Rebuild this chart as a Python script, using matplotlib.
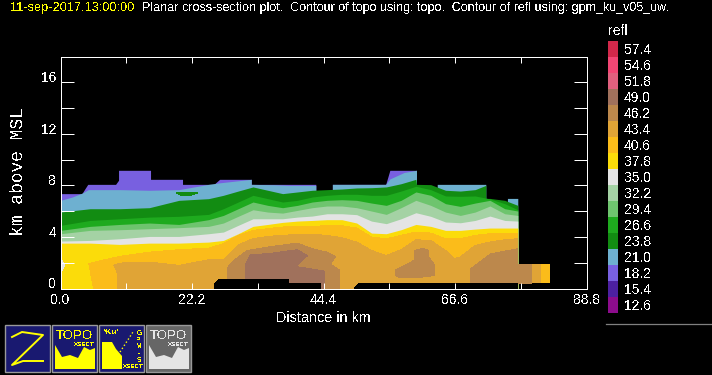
import matplotlib
matplotlib.use("Agg")
import matplotlib.pyplot as plt
import matplotlib.patches as patches

plt.rcParams['font.family'] = ['Liberation Sans', 'DejaVu Sans']
plt.rcParams['text.antialiased'] = False

WIDTH = 712
HEIGHT = 375

# Colour table, top of the legend first
refl_labels = ["57.4", "54.6", "51.8", "49.0", "46.2", "43.4", "40.6", "37.8", "35.0",
               "32.2", "29.4", "26.6", "23.8", "21.0", "18.2", "15.4", "12.6"]
refl_colors = ["#D2284A", "#F24674", "#E0607E", "#A0715C", "#BC884C", "#E0A436", "#FBBC1A",
               "#FBDC0A", "#E4E4E4", "#A4D2A4", "#6EC46E", "#1EAA1E", "#128C12", "#6EB0D0",
               "#7860E0", "#4C20A0", "#8C0C8C"]
color_of = dict(zip(refl_labels, refl_colors))

x_ticks = [0.0, 11.1, 22.2, 33.3, 44.4, 55.5, 66.6, 77.7, 88.8]
x_labels = ["0.0", "", "22.2", "", "44.4", "", "66.6", "", "88.8"]
y_ticks = [0, 2, 4, 6, 8, 10, 12, 14, 16]
y_labels = ["0", "", "4", "", "8", "", "12", "", "16"]

# Distance stations (km) for the upper edge of the layered bands
stations = [0, 5, 10, 15, 20, 25, 27.5, 30, 32.5, 35, 37.5, 40, 42.5, 45, 47.5, 50, 52.5,
            55, 57.5, 60, 62.5, 65, 67.5, 70, 72.5, 75, 77.2]

# Echo top (km)
purple_x = [0, 3.6, 4.6, 9.3, 9.8, 9.8, 15.2, 15.2, 20.6, 20.6, 25.9, 26.86, 32.2, 32.2, 43.1,
            43.1, 45.9, 45.9, 54.9, 55.6, 60.1, 60.1]
purple_top = [7.36, 7.36, 8.08, 8.08, 8.4, 9.17, 9.17, 8.47, 8.47, 8.08, 8.08, 8.47, 8.47, 8.08,
              8.08, 0, 0, 8.08, 8.08, 9.17, 9.17, 0]
blue_x = [0, 2, 3.7, 4.7, 10, 15, 20, 25, 26.9, 32.2, 32.2, 36, 38.5, 43.1, 43.1, 45.9, 45.9,
          54.9, 55.6, 58, 60.1, 60.1, 63.6, 63.6, 71.8, 71.8, 75.45, 75.45, 77.2, 77.2]
blue_top = [6.84, 7.10, 7.41, 7.67, 7.67, 7.62, 7.67, 8.08, 8.2, 8.47, 8.08, 8.05, 8.0, 8.0, 0,
            0, 8.08, 8.08, 8.5, 9.0, 9.17, 0, 0, 8.08, 8.08, 0, 0, 6.99, 6.99, 0]
dark_green_x = [0, 5, 10, 15, 20, 25, 27.5, 30, 32.5, 35, 37.5, 40, 42.5, 45, 47.5, 50, 52.5,
                55, 57.5, 60, 60.1, 62.5, 65, 67.5, 70, 71.8, 71.8, 72.5, 75, 77.2]
dark_green_top = [5.93, 6.19, 6.19, 6.27, 6.84, 6.97, 7.23, 7.56, 7.88, 7.62, 7.36, 7.49, 7.62,
                  7.67, 7.72, 7.80, 7.82, 7.88, 8.13, 8.47, 8.08, 8.06, 7.62, 7.56, 7.67, 8.0,
                  6.99, 6.99, 6.84, 6.45]

top_26 = [4.90, 5.28, 5.41, 5.54, 5.60, 5.75, 6.19, 6.71, 7.23, 6.97, 6.71, 6.84, 7.10, 7.23,
          7.31, 7.31, 7.23, 7.23, 7.56, 7.93, 7.67, 7.18, 7.15, 7.18, 6.95, 6.58, 6.11]
top_29 = [4.51, 4.82, 4.97, 5.08, 4.97, 5.34, 5.67, 6.19, 6.71, 6.45, 6.27, 6.45, 6.71, 6.84,
          6.89, 6.84, 6.63, 6.45, 6.84, 7.49, 7.23, 6.58, 6.37, 6.63, 6.84, 6.19, 6.01]
top_32 = [4.25, 4.51, 4.56, 4.64, 4.72, 4.82, 5.08, 5.60, 6.11, 5.93, 5.85, 6.06, 6.27, 6.40,
          6.40, 6.27, 6.01, 5.75, 6.27, 6.84, 6.45, 5.93, 5.67, 5.93, 6.40, 5.80, 5.67]
top_35 = [3.68, 3.73, 3.86, 4.04, 4.04, 4.25, 4.38, 4.90, 5.41, 5.41, 5.41, 5.54, 5.62, 5.80,
          5.80, 5.73, 5.23, 5.03, 5.41, 5.88, 5.60, 5.16, 5.10, 5.28, 5.62, 5.28, 5.23]
top_37 = [3.52, 3.52, 3.42, 3.52, 3.52, 3.60, 3.73, 4.25, 4.82, 4.97, 5.13, 5.23, 5.28, 5.34,
          5.34, 5.08, 4.30, 4.25, 4.56, 4.97, 4.82, 4.51, 4.51, 4.61, 4.69, 4.69, 4.69]

# Bands that do not span the whole section, as outlines (distance km, height km)
band_40_x = [5.6, 5.2, 4.8, 7, 10, 15, 20, 25, 27.5, 30, 32.5, 35, 37.5, 40, 42.5, 45, 47.5, 50,
             52.5, 55, 57.5, 60, 62.5, 65, 67.5, 70, 72.5, 75, 77.2, 77.2]
band_40_y = [0, 0.88, 1.92, 2.18, 2.49, 2.82, 3.01, 3.13, 3.47, 4.12, 4.51, 4.64, 4.77, 4.82,
             4.82, 4.87, 4.87, 4.69, 3.99, 3.86, 4.12, 4.38, 4.30, 3.86, 3.86, 4.12, 4.25, 4.25,
             4.25, 0]
band_43_x = [9.57, 9.68, 9.0, 10, 15, 20, 25, 27.5, 30, 32.5, 35, 37.5, 40, 42.5, 45, 47.5, 50,
             52.5, 55, 57.5, 60, 62.5, 65, 66.5, 67.5, 70, 72.5, 75, 77.2, 77.2]
band_43_y = [0, 1.14, 1.79, 1.97, 2.05, 1.79, 2.23, 2.23, 3.39, 3.86, 4.04, 4.12, 4.20, 4.20,
             4.12, 3.94, 3.60, 2.95, 2.56, 3.01, 3.78, 3.73, 2.95, 2.31, 2.44, 3.34, 3.60, 3.78,
             3.86, 0]
band_46_x = [28.27, 28.27, 29.28, 31.53, 34.91, 39.98, 42.5, 45, 46.46, 45.6, 45.9, 47.18, 47.18,
             28.27]
band_46_y = [0, 1.66, 2.18, 2.95, 3.21, 3.52, 3.08, 2.82, 2.49, 1.92, 1.79, 1.40, 0, 0]
band_49_x = [31.25, 31.25, 32.09, 34.91, 39.98, 41.67, 39.7, 44.48, 44.6, 31.25]
band_49_y = [0, 1.92, 2.64, 2.69, 3.01, 2.54, 1.71, 1.35, 0, 0]
blob_46_x = [56.6, 59.7, 59.8, 61.1, 62.2, 62.05, 63.2, 63.2, 60, 57.4, 56.6]
blob_46_y = [1.45, 2.18, 2.95, 3.11, 2.95, 2.49, 1.79, 1.01, 0.83, 0.83, 1.01]
right_46_x = [69.26, 69.26, 72.64, 77.2, 77.2, 79.56, 79.56]
right_46_y = [0.41, 1.53, 2.69, 3.08, 1.87, 1.87, 0.41]
block_43_x = [79.56, 81.08]
block_40_x = [81.08, 82.6]
block_low = 0.41
block_high = 1.87
sliver_x = [19.6, 23.1, 21.7, 20.3]
sliver_y = [7.41, 7.41, 7.2, 7.23]
edge_35_x = [0, 0.68, 0]
edge_35_y = [2.44, 1.79, 1.14]

# Areas without data along the ground
ground_a_x = [26.0, 26.0, 26.86, 38.46, 38.46, 43.9, 43.9]
ground_a_y = [0, 0.36, 0.70, 0.70, 0.36, 0.36, 0]
ground_b_x = [49.56, 50.4, 77.2, 77.2]
ground_b_y = [0, 0.36, 0.36, 0]


# Put an axes on the figure using pixel edges measured from the top left corner
def pixel_axes(fig, left, top, right, bottom):
    return fig.add_axes([left / WIDTH, 1 - bottom / HEIGHT, (right - left) / WIDTH, (bottom - top) / HEIGHT])


def fill_band(ax, x, y, label):
    ax.fill(x, y, color=color_of[label], linewidth=0, antialiased=False)


def draw_section(ax):
    ax.set_facecolor("black")
    ax.fill_between(purple_x, purple_top, 0, color=color_of["18.2"], linewidth=0, antialiased=False)
    ax.fill_between(blue_x, blue_top, 0, color=color_of["21.0"], linewidth=0, antialiased=False)
    ax.fill_between(dark_green_x, dark_green_top, 0, color=color_of["23.8"], linewidth=0, antialiased=False)
    fill_band(ax, sliver_x, sliver_y, "23.8")
    for top, label in [(top_26, "26.6"), (top_29, "29.4"), (top_32, "32.2"), (top_35, "35.0"), (top_37, "37.8")]:
        ax.fill_between(stations, top, 0, color=color_of[label], linewidth=0, antialiased=False)
    fill_band(ax, edge_35_x, edge_35_y, "35.0")
    fill_band(ax, band_40_x, band_40_y, "40.6")
    fill_band(ax, band_43_x, band_43_y, "43.4")
    fill_band(ax, band_46_x, band_46_y, "46.2")
    fill_band(ax, band_49_x, band_49_y, "49.0")
    fill_band(ax, blob_46_x, blob_46_y, "46.2")
    fill_band(ax, right_46_x, right_46_y, "46.2")
    ax.fill_between(block_43_x, block_low, block_high, color=color_of["43.4"], linewidth=0, antialiased=False)
    ax.fill_between(block_40_x, block_low, block_high, color=color_of["40.6"], linewidth=0, antialiased=False)
    ax.fill(ground_a_x, ground_a_y, color="black", linewidth=0, antialiased=False)
    ax.fill(ground_b_x, ground_b_y, color="black", linewidth=0, antialiased=False)

    ax.set_xlim(0, 88.8)
    ax.set_ylim(0, 18)
    ax.set_xticks(x_ticks, x_labels)
    ax.set_yticks(y_ticks, y_labels)
    ax.tick_params(axis="x", direction="in", top=True, length=4.3, width=0.72, colors="white",
                   labelsize=10, pad=3)
    ax.tick_params(axis="y", direction="in", right=True, length=9.4, width=0.72, colors="white",
                   labelsize=10, pad=3)
    for tick in ax.get_yticklabels():
        tick.set_verticalalignment("baseline")
    for spine in ax.spines.values():
        spine.set_color("white")
        spine.set_linewidth(0.72)
    ax.set_xlabel("Distance in km", color="white", fontsize=10.4, labelpad=3)


def draw_legend(over):
    over.text(608, 31, "refl", color="white", fontsize=10, va="center")
    for i, (label, color) in enumerate(zip(refl_labels, refl_colors)):
        over.add_patch(patches.Rectangle((608, 41 + i * 16), 10, 16, facecolor=color, linewidth=0))
        over.text(624, 50 + i * 16, label, color="white", fontsize=10, va="center")
    over.plot([606, 712], [324, 324], color="#808080", linewidth=0.9)


def draw_icon(over, left, face):
    over.add_patch(patches.Rectangle((left, 325), 45, 47, facecolor=face, edgecolor="#999999", linewidth=1))


def draw_icons(over):
    navy = "#191970"
    yellow = "#FFFF00"
    draw_icon(over, 5, navy)
    over.plot([12, 22, 43, 12, 23, 43], [337, 332, 335, 365, 361, 361], color=yellow, linewidth=1.4)

    draw_icon(over, 52, navy)
    over.text(74, 336, "TOPO", color=yellow, fontsize=9.5, ha="center", va="center")
    over.text(84, 344, "XSECT", color=yellow, fontsize=4.5, ha="center", va="center", weight="bold")
    over.fill([55, 55, 62, 70, 78, 84, 90, 95, 95], [369, 345, 357, 355, 358, 347, 350, 348, 369],
              color=yellow, linewidth=0)

    draw_icon(over, 99, navy)
    over.text(111, 333, "*Ku'", color=yellow, fontsize=6, ha="center", va="center", weight="bold")
    over.text(139, 347, "G\nP\nM\n-\nS", color=yellow, fontsize=5, ha="center", va="center",
              weight="bold", linespacing=0.95)
    over.text(133, 367, "XSECT", color=yellow, fontsize=4.5, ha="center", va="center", weight="bold")
    over.fill([102, 102, 112, 116, 122, 122], [369, 342, 342, 349, 356, 369], color=yellow, linewidth=0)
    over.plot([120, 133], [352, 332], color=yellow, linewidth=1, linestyle=":")

    draw_icon(over, 146, "#666666")
    over.text(168, 336, "TOPO", color="#E4E4E4", fontsize=9.5, ha="center", va="center")
    over.text(178, 344, "XSECT", color="#E4E4E4", fontsize=4.5, ha="center", va="center", weight="bold")
    over.fill([149, 149, 156, 164, 172, 178, 184, 189, 189], [369, 345, 357, 355, 358, 347, 350, 348, 369],
              color="#E4E4E4", linewidth=0)


fig = plt.figure(figsize=(WIDTH / 100, HEIGHT / 100), dpi=100, facecolor="black")
ax = pixel_axes(fig, 60.5, 56.5, 586.5, 288.5)
draw_section(ax)

over = pixel_axes(fig, 0, 0, WIDTH, HEIGHT)
over.set_xlim(0, WIDTH)
over.set_ylim(HEIGHT, 0)
over.axis("off")
over.patch.set_alpha(0)

over.text(10, 8, "11-sep-2017,13:00:00", color="#FFFF00", fontsize=9.2, va="center")
over.text(142, 8, "Planar cross-section plot.  Contour of topo using: topo.  Contour of refl using: gpm_ku_v05_uw.",
          color="white", fontsize=9.0, va="center")
over.text(19, 172, "km above MSL", color="white", fontsize=13, family="Liberation Mono",
          rotation=90, ha="center", va="center")
draw_legend(over)
draw_icons(over)

fig.savefig("out.png", dpi=100, facecolor="black")
